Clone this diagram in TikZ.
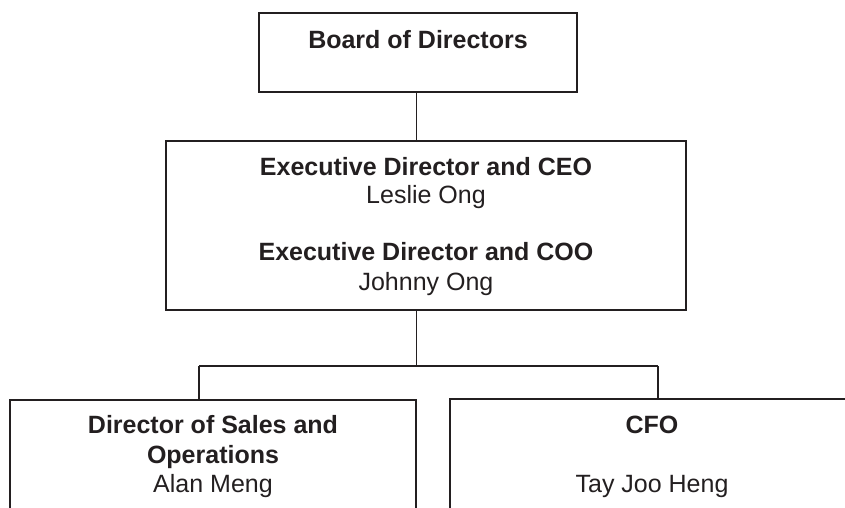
\documentclass[tikz,border=0pt]{standalone}
\usepackage{fontspec}
\setmainfont{Liberation Sans}
\begin{document}
\begin{tikzpicture}[x=1pt,y=-1pt,
  ink/.style={draw=inkc, line width=1.6pt},
  orgbox/.style={ink, rectangle, inner sep=0pt, outer sep=0pt},
  link/.style={draw=inkc, line width=1.3pt},
  bar/.style={draw=inkc, line width=2.4pt},
  lbl/.style={anchor=base, inner sep=0pt, text=inkc, font=\fontsize{25}{29}\selectfont},
  title/.style={lbl, font=\fontsize{25}{29}\selectfont\bfseries}]
\definecolor{inkc}{HTML}{231F20}
\useasboundingbox (0,0) rectangle (845,507);
\clip (0,0) rectangle (845,507);

% boxes
\node[orgbox, minimum width=318pt, minimum height=79pt]  (board) at (418,52.5) {};
\node[orgbox, minimum width=520pt, minimum height=169pt] (ceo)   at (426,225.5) {};
\node[orgbox, minimum width=406pt, minimum height=160pt] (sales) at (213,480) {};
\node[orgbox, minimum width=404pt, minimum height=160pt] (cfo)   at (652,479) {};

% texts
\node[title] (boardT) at (418,48) {Board of Directors};
\node[title] (ceoT)   at (426,175) {Executive Director and CEO};
\node[lbl]   (ceoN)   at (426,203) {Leslie Ong};
\node[title] (cooT)   at (426,260) {Executive Director and COO};
\node[lbl]   (cooN)   at (426,290) {Johnny Ong};
\node[title] (salesT) at (213,433) {Director of Sales and};
\node[title] (salesU) at (213,463) {Operations};
\node[lbl]   (salesN) at (213,492) {Alan Meng};
\node[title] (cfoT)   at (652,433) {CFO};
\node[lbl]   (cfoN)   at (652,492) {Tay Joo Heng};

% connectors
\coordinate (hub)  at (416.5,366);
\coordinate (hubL) at (199,366);
\coordinate (hubR) at (658,366);
\draw[link] (board.south -| hub) -- (ceo.north -| hub);
\draw[link] (ceo.south -| hub) -- (hub);
\draw[bar] (hubL) -- (hubR);
\draw[link] (hubL) -- (hubL |- sales.north);
\draw[link] (hubR) -- (hubR |- cfo.north);
\end{tikzpicture}
\end{document}
